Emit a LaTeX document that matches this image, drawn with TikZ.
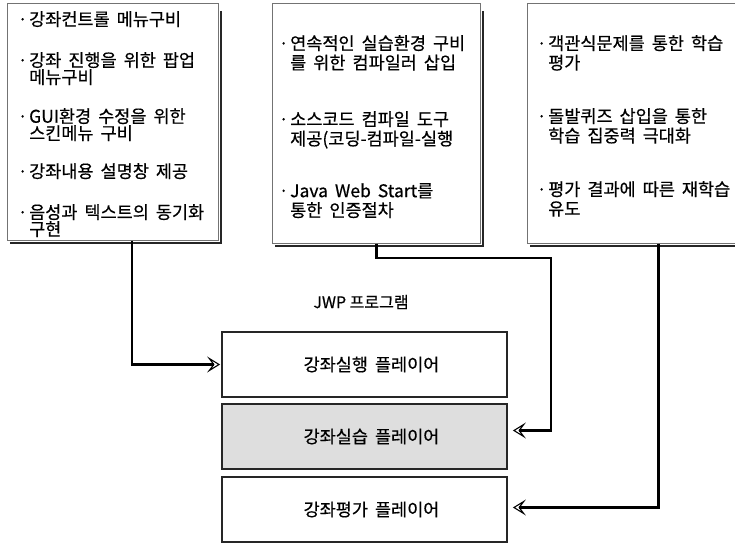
\documentclass[tikz,border=0pt]{standalone}
\usepackage{fontspec}
\setmainfont{Noto Sans CJK KR}[FakeBold=0.5]
\usetikzlibrary{arrows.meta}
\newcommand{\kfont}[1]{\fontsize{17.5}{#1}\selectfont\spaceskip=7pt plus 1pt minus 1pt\relax}
\newcommand{\bul}{\makebox[8pt][l]{\makebox[3pt]{\makebox[0pt]{·}}}}
\newcommand{\hang}{\hspace*{8pt}}
\begin{document}
\begin{tikzpicture}[x=1pt,y=-1pt,
  frame/.style={draw=black!55, line width=0.7pt, inner sep=0pt, anchor=north west},
  shadowline/.style={draw=black!85, line width=2.2pt},
  itma/.style={anchor=north west, inner sep=0pt, align=left, font=\kfont{17}},
  itmb/.style={anchor=north west, inner sep=0pt, align=left, font=\kfont{19.5}},
  player/.style={draw=black!85, line width=1.8pt, minimum width=285pt, minimum height=65pt, inner sep=0pt, font=\kfont{18}},
  conn/.style={draw=black, line width=2.6pt, -{Stealth[open, length=13pt, width=16pt, inset=6pt, line width=1.1pt]}}
]
\useasboundingbox (0,0) rectangle (735,543);
% top frames
\node[frame, minimum width=211pt, minimum height=237pt] (b1) at (7,3) {};
\draw[shadowline] ([xshift=2pt,yshift=-8pt]b1.north east) -- ([xshift=2pt,yshift=-2pt]b1.south east) -- ([xshift=3pt,yshift=-2pt]b1.south west);
\node[frame, minimum width=208pt, minimum height=240pt] (b2) at (272,3) {};
\draw[shadowline] ([xshift=2pt,yshift=-8pt]b2.north east) -- ([xshift=2pt,yshift=-2pt]b2.south east) -- ([xshift=3pt,yshift=-2pt]b2.south west);
\node[frame, minimum width=220pt, minimum height=240pt] (b3) at (527,3) {};
\draw[shadowline] ([xshift=3pt,yshift=-2pt]b3.south west) -- ([yshift=-2pt]b3.south east);
% box 1 items
\node[itma] (a1) at (21,11) {\bul 강좌컨트롤 메뉴구비};
\node[itma] (a2) at (21,52) {\bul 강좌 진행을 위한 팝업\\\hang 메뉴구비};
\node[itma] (a3) at (21,108) {\bul GUI환경 수정을 위한\\\hang 스킨메뉴 구비};
\node[itma] (a4) at (21,163) {\bul 강좌내용 설명창 제공};
\node[itma] (a5) at (21,204) {\bul 음성과 텍스트의 동기화\\\hang 구현};
% box 2 items
\node[itmb] (m1) at (282,35) {\bul 연속적인 실습환경 구비\\\hang 를 위한 컴파일러 삽입};
\node[itmb] (m2) at (282,111) {\bul 소스코드 컴파일 도구\\\hang 제공(코딩{-}컴파일{-}실행};
\node[itmb] (m3) at (282,183) {\bul Java Web Start를\\\hang 통한 인증절차};
% box 3 items
\node[itmb] (r1) at (540,35) {\bul 객관식문제를 통한 학습\\\hang 평가};
\node[itmb] (r2) at (540,108) {\bul 돌발퀴즈 삽입을 통한\\\hang 학습 집중력 극대화};
\node[itmb] (r3) at (540,181) {\bul 평가 결과에 따른 재학습\\\hang 유도};
% program label and players
\node[font=\fontsize{16}{19}\selectfont, inner sep=0pt] (jwp) at (361,302) {JWP 프로그램};
\node[player] (p1) at (364.5,364.5) {\hspace*{14pt}강좌실행 플레이어};
\node[player, fill=black!13] (p2) at (364.5,436.5) {\hspace*{14pt}강좌실습 플레이어};
\node[player] (p3) at (364.5,509.5) {\hspace*{14pt}강좌평가 플레이어};
% connectors
\coordinate (k2) at (551,258);
\draw[conn] ([xshift=19pt]b1.south) |- ([xshift=-1pt]p1.west);
\draw[conn] ([xshift=0pt]b2.south) |- (k2) |- ([xshift=5pt,yshift=6pt]p2.east);
\draw[conn] ([xshift=21pt]b3.south) |- ([xshift=5pt,yshift=2pt]p3.east);
\end{tikzpicture}
\end{document}
